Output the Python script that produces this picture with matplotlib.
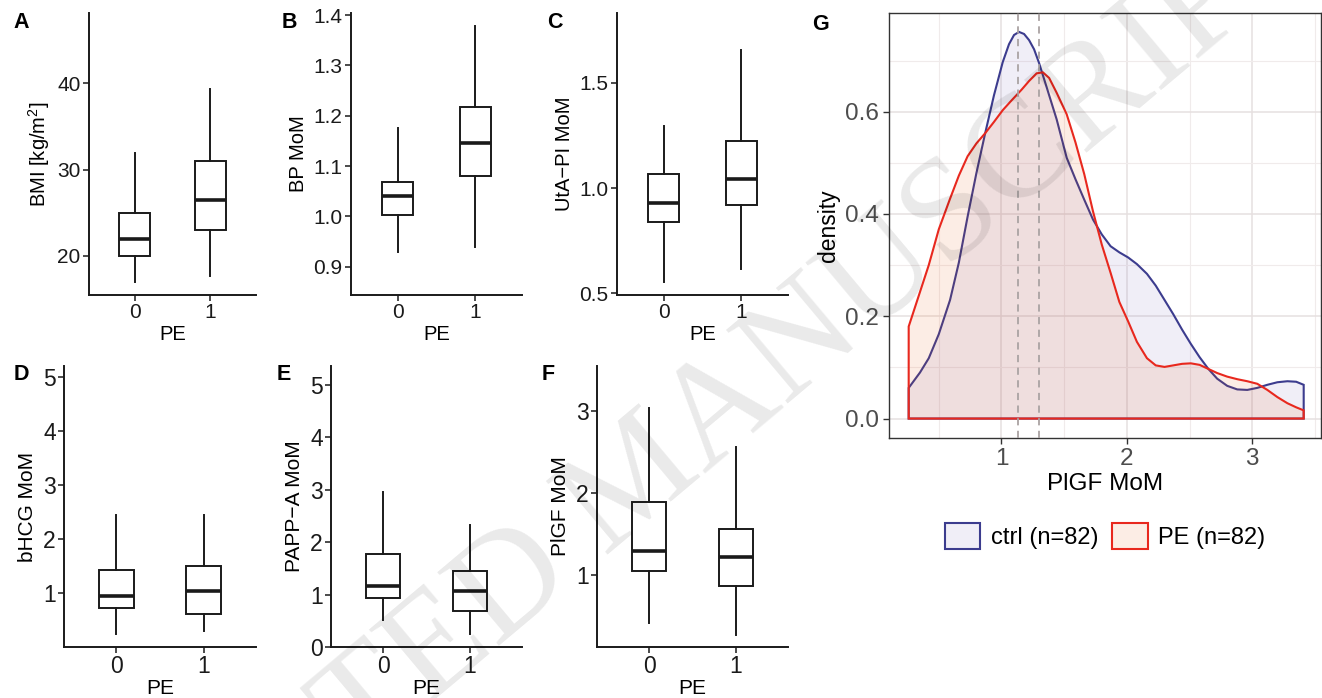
import matplotlib
matplotlib.use("Agg")
import matplotlib.pyplot as plt
from matplotlib.patches import Patch
from matplotlib.colors import to_rgba
from matplotlib.ticker import MultipleLocator

plt.rcParams['font.family'] = ['Liberation Sans', 'DejaVu Sans']
plt.rcParams['mathtext.fontset'] = 'custom'
plt.rcParams['mathtext.rm'] = 'Liberation Sans'

# box stats per panel: [whisker low, Q1, median, Q3, whisker high] for PE=0 and PE=1
bmi_0 = [17.0, 20.0, 22.0, 25.0, 31.9]
bmi_1 = [17.7, 23.0, 26.5, 31.0, 39.3]
bp_0 = [0.930, 1.002, 1.040, 1.069, 1.175]
bp_1 = [0.940, 1.081, 1.145, 1.217, 1.379]
uta_0 = [0.555, 0.841, 0.930, 1.067, 1.295]
uta_1 = [0.617, 0.919, 1.045, 1.226, 1.655]
bhcg_0 = [0.25, 0.72, 0.95, 1.43, 2.46]
bhcg_1 = [0.30, 0.62, 1.04, 1.50, 2.46]
pappa_0 = [0.52, 0.94, 1.17, 1.78, 2.96]
pappa_1 = [0.24, 0.68, 1.06, 1.45, 2.32]
plgf_0 = [0.41, 1.05, 1.29, 1.89, 3.04]
plgf_1 = [0.27, 0.86, 1.22, 1.56, 2.56]
groups = ['0', '1']

# density curves (panel G)
ctrl_x = [0.26, 0.35, 0.42, 0.50, 0.59, 0.66, 0.73, 0.80, 0.87, 0.94, 1.01, 1.06,
          1.10, 1.14, 1.18, 1.22, 1.26, 1.30, 1.36, 1.44, 1.52, 1.59, 1.66, 1.73,
          1.80, 1.87, 1.94, 2.01, 2.08, 2.16, 2.23, 2.30, 2.37, 2.44, 2.51, 2.58,
          2.65, 2.72, 2.80, 2.88, 2.96, 3.04, 3.12, 3.20, 3.28, 3.35, 3.41]
ctrl_y = [0.060, 0.090, 0.118, 0.165, 0.232, 0.305, 0.395, 0.480, 0.558, 0.632, 0.697, 0.732,
          0.750, 0.756, 0.752, 0.740, 0.722, 0.695, 0.648, 0.585, 0.510, 0.468, 0.428, 0.389,
          0.360, 0.337, 0.325, 0.315, 0.302, 0.283, 0.260, 0.232, 0.204, 0.174, 0.146, 0.120,
          0.097, 0.078, 0.064, 0.057, 0.056, 0.060, 0.066, 0.071, 0.073, 0.072, 0.066]
pe_x = [0.26, 0.32, 0.42, 0.50, 0.59, 0.66, 0.73, 0.80, 0.87, 0.94, 1.01, 1.08,
        1.16, 1.22, 1.28, 1.33, 1.38, 1.44, 1.52, 1.59, 1.66, 1.73, 1.80, 1.87,
        1.94, 2.01, 2.08, 2.16, 2.23, 2.30, 2.37, 2.44, 2.51, 2.58, 2.65, 2.72,
        2.80, 2.88, 2.96, 3.04, 3.12, 3.20, 3.28, 3.35, 3.41]
pe_y = [0.180, 0.225, 0.300, 0.370, 0.430, 0.475, 0.513, 0.538, 0.558, 0.580, 0.603, 0.622,
        0.643, 0.660, 0.675, 0.677, 0.666, 0.637, 0.595, 0.540, 0.478, 0.405, 0.340, 0.285,
        0.228, 0.190, 0.150, 0.118, 0.104, 0.101, 0.104, 0.107, 0.108, 0.105, 0.097, 0.089,
        0.082, 0.077, 0.073, 0.068, 0.056, 0.042, 0.030, 0.022, 0.016]
vlines = [1.128, 1.30]
legend_labels = ['ctrl (n=82)', 'PE (n=82)']

W, H = 1322, 698
fig = plt.figure(figsize=(W / 100, H / 100), dpi=100)


def ax_at(l, t, r, b):
    return fig.add_axes([l / W, 1 - b / H, (r - l) / W, (b - t) / H])


def box_panel(ax, s0, s1, ylim, yticks, yticklabels, ylabel, fs_tick, fs_lab, xpad):
    stats = []
    for s in (s0, s1):
        stats.append(dict(whislo=s[0], q1=s[1], med=s[2], q3=s[3], whishi=s[4], fliers=[]))
    ax.bxp(stats, positions=[0, 1], widths=0.4, showcaps=False, showfliers=False,
           patch_artist=True,
           boxprops=dict(facecolor='white', edgecolor='#1a1a1a', linewidth=1.4),
           whiskerprops=dict(color='#1a1a1a', linewidth=1.4),
           medianprops=dict(color='#1a1a1a', linewidth=2.6, solid_capstyle='butt'))
    ax.set_xlim(-0.6, 1.6)
    ax.set_ylim(*ylim)
    ax.set_xticks([0, 1])
    ax.set_xticklabels(groups)
    ax.set_yticks(yticks)
    ax.set_yticklabels(yticklabels)
    for sp in ['top', 'right']:
        ax.spines[sp].set_visible(False)
    for sp in ['left', 'bottom']:
        ax.spines[sp].set_linewidth(1.4)
        ax.spines[sp].set_color('#1a1a1a')
    ax.tick_params(length=4, width=1.1, color='#1a1a1a', labelsize=fs_tick,
                   labelcolor='#1a1a1a', pad=2)
    ax.set_xlabel('PE', fontsize=fs_lab, labelpad=xpad)
    ax.set_ylabel(ylabel, fontsize=fs_lab, labelpad=4)


axA = ax_at(89, 13, 256, 295)
box_panel(axA, bmi_0, bmi_1, (15.48, 48.14), [20, 30, 40], ['20', '30', '40'],
          'BMI [kg/m$^{2}$]', 15, 14.5, 2)
axB = ax_at(351, 13, 522, 295)
box_panel(axB, bp_0, bp_1, (0.844, 1.404), [0.9, 1.0, 1.1, 1.2, 1.3, 1.4],
          ['0.9', '1.0', '1.1', '1.2', '1.3', '1.4'], 'BP MoM', 15, 14.5, 2)
axC = ax_at(617, 13, 788, 295)
box_panel(axC, uta_0, uta_1, (0.492, 1.832), [0.5, 1.0, 1.5], ['0.5', '1.0', '1.5'],
          'UtA\u2212PI MoM', 15, 14.5, 2)
axD = ax_at(64, 366, 256, 647)
box_panel(axD, bhcg_0, bhcg_1, (0.007, 5.21), [1, 2, 3, 4, 5], ['1', '2', '3', '4', '5'],
          'bHCG MoM', 16.5, 15, 0.5)
axE = ax_at(331, 366, 522, 647)
box_panel(axE, pappa_0, pappa_1, (0.0, 5.36), [0, 1, 2, 3, 4, 5],
          ['0', '1', '2', '3', '4', '5'], 'PAPP\u2212A MoM', 16.5, 15, 0.5)
axF = ax_at(597, 366, 788, 647)
box_panel(axF, plgf_0, plgf_1, (0.12, 3.55), [1, 2, 3], ['1', '2', '3'],
          'PlGF MoM', 16.5, 15, 0.5)

# density panel
axG = ax_at(889, 13, 1321, 438)
ctrl_line, ctrl_fill = '#3c3c8e', '#735fb9'
pe_line, pe_fill = '#e8281e', '#eb5505'
axG.fill([ctrl_x[0]] + ctrl_x + [ctrl_x[-1]], [0] + ctrl_y + [0],
         facecolor=to_rgba(ctrl_fill, 0.1), edgecolor=ctrl_line, linewidth=1.5, zorder=2)
axG.fill([pe_x[0]] + pe_x + [pe_x[-1]], [0] + pe_y + [0],
         facecolor=to_rgba(pe_fill, 0.1), edgecolor=pe_line, linewidth=1.5, zorder=3)
for v in vlines:
    axG.axvline(v, color='#aaa3a3', linestyle=(0, (4, 3)), linewidth=1.3, zorder=4)
axG.set_xlim(0.103, 3.548)
axG.set_ylim(-0.038, 0.793)
axG.set_xticks([1, 2, 3])
axG.set_yticks([0.0, 0.2, 0.4, 0.6])
axG.set_yticklabels(['0.0', '0.2', '0.4', '0.6'])
axG.xaxis.set_minor_locator(MultipleLocator(0.5))
axG.yaxis.set_minor_locator(MultipleLocator(0.1))
axG.grid(which='major', color='#e6e0e0', linewidth=1.1)
axG.grid(which='minor', color='#f0ebeb', linewidth=0.8)
axG.set_axisbelow(True)
for sp in axG.spines.values():
    sp.set_color('#333333')
    sp.set_linewidth(1.0)
axG.tick_params(which='major', length=4, width=1.0, color='#333333',
                labelsize=17.5, labelcolor='#4d4d4d', pad=3)
axG.tick_params(which='minor', length=0)
axG.set_xlabel('PlGF MoM', fontsize=17.5, labelpad=2)
axG.set_ylabel('density', fontsize=16.5, labelpad=4)

handles = [Patch(facecolor=to_rgba(ctrl_fill, 0.1), edgecolor=ctrl_line, linewidth=1.5),
           Patch(facecolor=to_rgba(pe_fill, 0.1), edgecolor=pe_line, linewidth=1.5)]
fig.legend(handles, legend_labels, loc='center', bbox_to_anchor=(1105 / W, 1 - 536 / H),
           ncol=2, frameon=False, fontsize=17, handlelength=1.5, handleheight=1.3,
           columnspacing=0.6, handletextpad=0.45)

# panel letters
for letter, (px, py) in zip('ABCDEFG', [(13, 12), (282, 12), (547, 12), (14, 364),
                                        (277, 364), (542, 364), (812, 14)]):
    fig.text(px / W, 1 - py / H, letter, fontsize=15.5, fontweight='bold',
             ha='left', va='top')

# watermark
fig.text(640 / W, 1 - 482 / H, 'ACCEPTED MANUSCRIPT', rotation=40, fontsize=105,
         family='Liberation Serif', color='black', alpha=0.085, ha='center', va='center',
         rotation_mode='anchor', zorder=10)

fig.savefig('out.png', dpi=100)
